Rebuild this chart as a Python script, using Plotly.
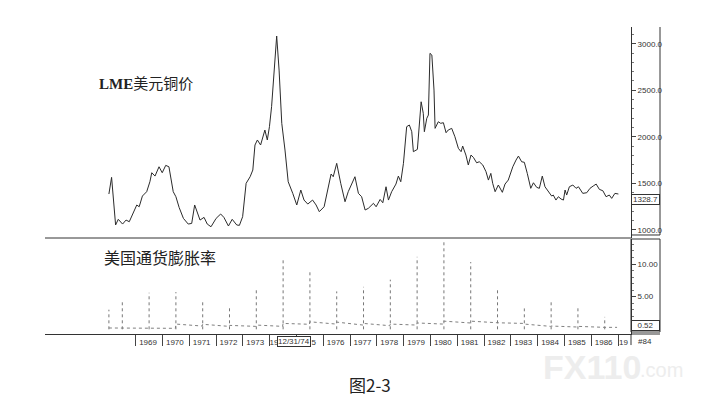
import plotly.graph_objects as go

# ---------------- data ----------------
price_years = [1968.00, 1968.10, 1968.25, 1968.35, 1968.51, 1968.64, 1968.76, 1968.91, 1969.04, 1969.13,
               1969.25, 1969.41, 1969.53, 1969.60, 1969.72, 1969.87, 1969.99, 1970.12, 1970.24, 1970.40,
               1970.50, 1970.62, 1970.78, 1970.96, 1971.09, 1971.20, 1971.30, 1971.40, 1971.55, 1971.67,
               1971.81, 1972.00, 1972.17, 1972.29, 1972.46, 1972.60, 1972.77, 1972.87, 1972.99, 1973.08,
               1973.12, 1973.27, 1973.37, 1973.45, 1973.54, 1973.66, 1973.82, 1973.91, 1973.99, 1974.07,
               1974.16, 1974.26, 1974.35, 1974.45, 1974.57, 1974.69, 1974.86, 1975.01, 1975.16, 1975.28,
               1975.42, 1975.60, 1975.73, 1975.85, 1976.03, 1976.15, 1976.29, 1976.37, 1976.50, 1976.65,
               1976.81, 1976.93, 1977.18, 1977.31, 1977.43, 1977.56, 1977.68, 1977.87, 1977.97, 1978.12,
               1978.22, 1978.34, 1978.43, 1978.55, 1978.71, 1978.80, 1978.89, 1978.99, 1979.11, 1979.21,
               1979.30, 1979.36, 1979.51, 1979.65, 1979.73, 1979.77, 1979.86, 1979.92, 1979.98, 1980.05,
               1980.13, 1980.17, 1980.29, 1980.38, 1980.48, 1980.58, 1980.66, 1980.79, 1980.91, 1981.04,
               1981.14, 1981.20, 1981.32, 1981.41, 1981.51, 1981.60, 1981.72, 1981.82, 1981.95, 1982.07,
               1982.16, 1982.25, 1982.32, 1982.41, 1982.53, 1982.68, 1982.78, 1982.90, 1983.07, 1983.19,
               1983.28, 1983.40, 1983.50, 1983.61, 1983.74, 1983.84, 1983.96, 1984.06, 1984.17, 1984.27,
               1984.40, 1984.52, 1984.58, 1984.68, 1984.77, 1984.87, 1984.96, 1985.02, 1985.08, 1985.18,
               1985.31, 1985.43, 1985.52, 1985.68, 1985.83, 1985.95, 1986.07, 1986.18, 1986.30, 1986.43,
               1986.55, 1986.67, 1986.76, 1986.88, 1987.01]
price_values = [1384, 1563, 1051, 1112, 1061, 1104, 1086, 1176, 1266, 1247,
                1362, 1409, 1516, 1613, 1577, 1677, 1613, 1692, 1677, 1409,
                1355, 1240, 1122, 1061, 1068, 1266, 1194, 1104, 1133, 1061,
                1032, 1122, 1169, 1133, 1040, 1112, 1051, 1047, 1140, 1427,
                1499, 1570, 1642, 1911, 1965, 1911, 2072, 1965, 2108, 2323,
                2682, 3083, 2717, 2144, 1857, 1516, 1391, 1266, 1427, 1319,
                1276, 1319, 1266, 1194, 1247, 1427, 1599, 1570, 1714, 1499,
                1301, 1409, 1570, 1391, 1355, 1212, 1230, 1284, 1247, 1326,
                1290, 1462, 1319, 1409, 1491, 1577, 1516, 1714, 2108, 2126,
                2054, 1839, 1864, 2376, 2252, 2054, 2198, 2233, 2897, 2878,
                2502, 2090, 2161, 2144, 2151, 2043, 2072, 2090, 2000, 1875,
                1839, 1900, 1803, 1696, 1803, 1778, 1720, 1731, 1696, 1624,
                1534, 1606, 1499, 1409, 1481, 1402, 1491, 1534, 1677, 1749,
                1792, 1731, 1725, 1606, 1445, 1505, 1456, 1445, 1577, 1462,
                1409, 1362, 1373, 1319, 1355, 1330, 1319, 1427, 1373, 1462,
                1481, 1445, 1462, 1391, 1398, 1445, 1470, 1491, 1434, 1419,
                1355, 1373, 1337, 1391, 1384]

infl_years = [1968.0, 1968.5, 1969.5, 1970.5, 1971.5, 1972.5, 1973.5, 1974.5, 1975.5, 1976.5,
              1977.5, 1978.5, 1979.5, 1980.5, 1981.5, 1982.5, 1983.5, 1984.5, 1985.5, 1986.5]
infl_values = [3.0, 4.3, 5.6, 5.7, 4.4, 3.3, 6.1, 10.9, 9.1, 5.8,
               6.5, 7.6, 11.1, 13.4, 10.3, 6.1, 3.2, 4.3, 3.6, 1.9]
base_start = [0.2, 0.2, 0.15, 0.8, 0.77, 0.6, 0.65, 0.9, 1.15, 1.1,
              0.9, 0.8, 0.97, 1.25, 1.25, 1.0, 0.8, 0.5, 0.45, 0.3]
base_end = [0.2, 0.2, 0.15, 0.5, 0.45, 0.45, 0.45, 0.77, 0.8, 0.65,
            0.55, 0.65, 0.8, 0.97, 0.9, 0.9, 0.45, 0.35, 0.3, 0.3]
series_end = 1986.98

year_ticks = list(range(1969, 1988))
# labels as visible: 1974/1975 partly hidden by the cursor date box, 1987 cut by the scale box
year_labels = ["1969", "1970", "1971", "1972", "1973", "19", "5", "1976", "1977", "1978",
               "1979", "1980", "1981", "1982", "1983", "1984", "1985", "1986", "19"]
label_offsets = [0.46, 0.46, 0.46, 0.46, 0.46, 0.16, 0.64, 0.46, 0.46, 0.46,
                 0.46, 0.46, 0.46, 0.46, 0.46, 0.46, 0.46, 0.46, 0.20]
cursor_date = "12/31/74"
price_ticks = [1000, 1500, 2000, 2500, 3000]
infl_ticks = [5, 10]
last_price_label = 1328.7
last_infl_label = 0.52

# ---------------- build ----------------
spike_x, spike_y = [], []
for yr, v in zip(infl_years, infl_values):
    spike_x += [yr, yr, None]
    spike_y += [0, v, None]

base_x, base_y = [], []
for i, yr in enumerate(infl_years):
    nxt = infl_years[i + 1] if i + 1 < len(infl_years) else series_end
    base_x += [yr, nxt - 0.02]
    base_y += [base_start[i], base_end[i]]

fig = go.Figure()
fig.add_trace(go.Scatter(x=price_years, y=price_values, mode="lines",
                         line=dict(color="#2b2b2b", width=1), yaxis="y", showlegend=False))
fig.add_trace(go.Scatter(x=spike_x, y=spike_y, mode="lines",
                         line=dict(color="#777777", width=1, dash="dot"), yaxis="y2", showlegend=False))
fig.add_trace(go.Scatter(x=base_x, y=base_y, mode="lines",
                         line=dict(color="#808080", width=1, dash="dot"), yaxis="y2", showlegend=False))

tickfont = dict(family="Liberation Sans", size=8, color="#333333")
tick_pos = [y + o for y, o in zip(year_ticks, label_offsets)]

# page body has an 8px default margin, so the figure is 8px smaller
fig.update_layout(
    width=718, height=407,
    margin=dict(l=37, r=95, t=19, b=81),
    paper_bgcolor="white", plot_bgcolor="white",
    xaxis=dict(range=[1965.616, 1987.48], anchor="y2", showgrid=False, zeroline=False,
               showline=True, linecolor="#333333", linewidth=1,
               tickmode="array", tickvals=tick_pos, ticktext=year_labels,
               ticks="", tickfont=tickfont,
               minor=dict(tickmode="array", tickvals=year_ticks, ticks="outside",
                          ticklen=11, tickcolor="#444444", tickwidth=1)),
    yaxis=dict(domain=[0.3127, 1], range=[911, 3180], side="right", anchor="x",
               showgrid=False, zeroline=False, showline=True, linecolor="#333333",
               tickmode="array", tickvals=price_ticks,
               ticktext=[f"{v:.1f}" for v in price_ticks],
               ticks="outside", ticklen=4, tickcolor="#444444", tickfont=tickfont,
               minor=dict(dtick=100, ticks="outside", ticklen=2, tickcolor="#777777")),
    yaxis2=dict(domain=[0, 0.3094], range=[-0.72, 13.83], side="right", anchor="x",
                showgrid=False, zeroline=False, showline=True, linecolor="#333333",
                tickmode="array", tickvals=infl_ticks,
                ticktext=[f"{v:.2f}" for v in infl_ticks],
                ticks="outside", ticklen=4, tickcolor="#444444", tickfont=tickfont,
                minor=dict(dtick=1, ticks="outside", ticklen=2, tickcolor="#777777")),
)

# frame pieces on the right and panel separator
line_style = dict(color="#333333", width=1)
fig.add_shape(type="line", xref="paper", yref="paper", x0=0, x1=1, y0=0.3127, y1=0.3127, line=line_style)
fig.add_shape(type="line", xref="paper", yref="paper", x0=1.0495, x1=1.0495, y0=0.3225, y1=1.0, line=line_style)
fig.add_shape(type="line", xref="paper", yref="paper", x0=1.0, x1=1.0495, y0=0.3225, y1=0.3225, line=line_style)
fig.add_shape(type="rect", xref="paper", yref="paper", x0=1.0, x1=1.0495, y0=0.0065, y1=0.3094, line=line_style)
fig.add_shape(type="line", xref="paper", yref="paper", x0=1.0, x1=1.0495, y0=0.0, y1=0.0, line=line_style)
fig.add_shape(type="line", xref="paper", yref="paper", x0=1.0, x1=1.0, y0=-0.036, y1=0.0, line=line_style)

ann = []
ann.append(dict(text="<b>LME</b>美元铜价", xref="paper", yref="paper", x=0.0887, y=0.8143,
                xanchor="left", yanchor="middle", showarrow=False,
                font=dict(family="Liberation Serif, Noto Sans CJK SC", size=15, color="#222222")))
ann.append(dict(text="美国通货膨胀率", xref="paper", yref="paper", x=0.0972, y=0.2508,
                xanchor="left", yanchor="middle", showarrow=False,
                font=dict(family="Noto Sans CJK SC", size=16, color="#222222")))
ann.append(dict(text=f"{last_price_label:.1f}", xref="paper", yref="y", x=1.0247, y=last_price_label,
                xanchor="center", yanchor="middle", showarrow=False, bgcolor="white",
                bordercolor="#333333", borderwidth=1, borderpad=0, width=27,
                font=tickfont))
ann.append(dict(text=f"{last_infl_label:.2f}", xref="paper", yref="y2", x=1.0247, y=last_infl_label,
                xanchor="center", yanchor="middle", showarrow=False, bgcolor="white",
                bordercolor="#333333", borderwidth=1, borderpad=0, width=27,
                font=tickfont))
ann.append(dict(text=cursor_date, xref="x", yref="paper", x=1974.89, y=-0.0235,
                xanchor="center", yanchor="middle", showarrow=False, bgcolor="white",
                bordercolor="#333333", borderwidth=1, borderpad=0,
                font=tickfont))
ann.append(dict(text="#84", xref="paper", yref="paper", x=1.0247, y=-0.0235,
                xanchor="center", yanchor="middle", showarrow=False, font=tickfont))
ann.append(dict(text="图2-3", xref="paper", yref="paper", x=0.5546, y=-0.166,
                xanchor="center", yanchor="middle", showarrow=False,
                font=dict(family="Noto Sans CJK SC", size=17, color="#222222")))
ann.append(dict(text="<b>FX110</b>", xref="paper", yref="paper", x=0.846, y=-0.107,
                xanchor="left", yanchor="middle", showarrow=False,
                font=dict(family="Liberation Sans", size=34, color="#ededed")))
ann.append(dict(text=".com", xref="paper", yref="paper", x=1.012, y=-0.118,
                xanchor="left", yanchor="middle", showarrow=False,
                font=dict(family="Liberation Sans", size=20, color="#ededed")))
fig.update_layout(annotations=ann)

fig.write_html("out.html")
